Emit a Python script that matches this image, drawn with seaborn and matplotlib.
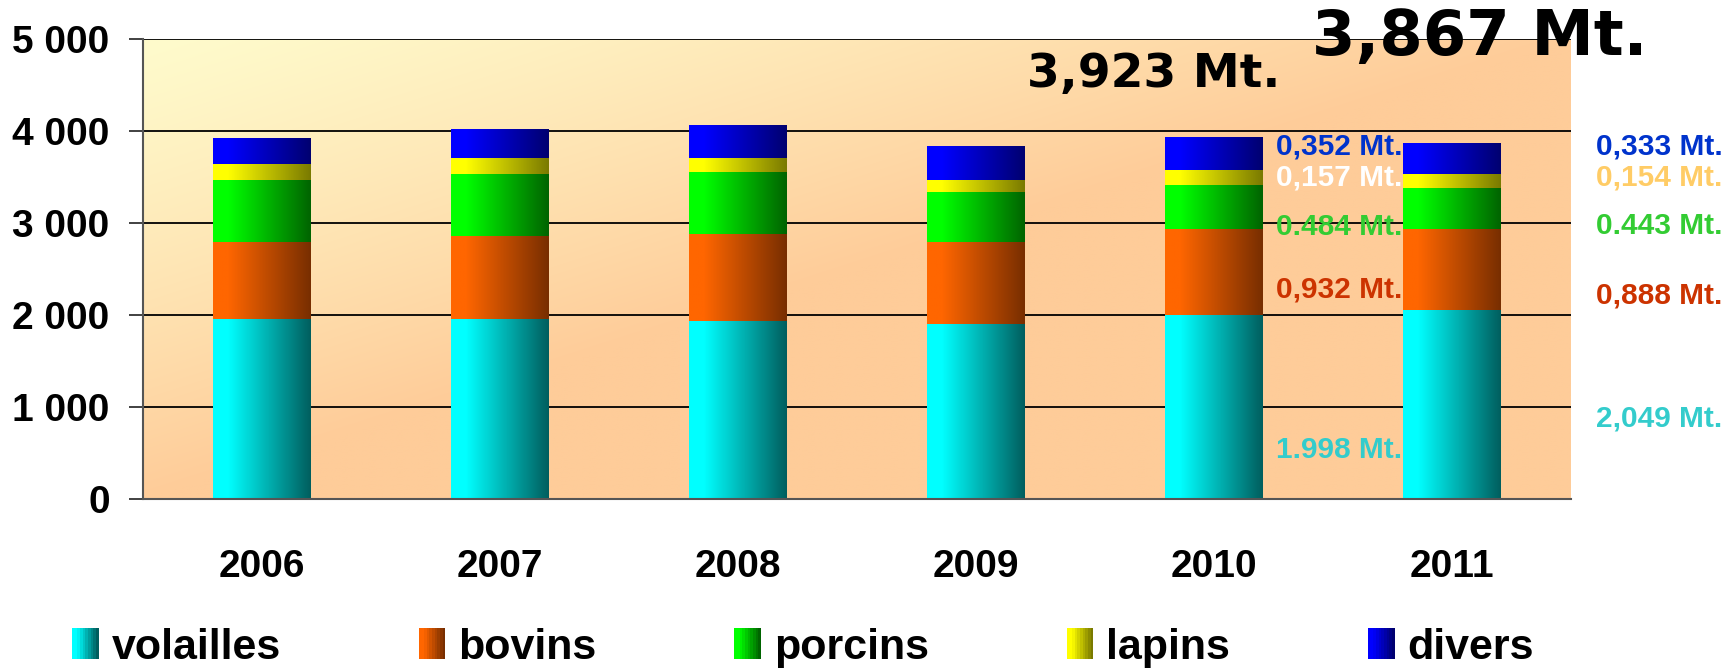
import numpy as np
import pandas as pd
import matplotlib
matplotlib.use("Agg")
import matplotlib.pyplot as plt
import seaborn as sns
from matplotlib.patches import Patch, Rectangle
from matplotlib.legend_handler import HandlerBase
from matplotlib.ticker import FuncFormatter, FixedLocator

# values in kt (2010 / 2011 from the printed labels)
years = ["2006", "2007", "2008", "2009", "2010", "2011"]
volailles = [1957, 1957, 1935, 1902, 1998, 2049]
bovins = [840, 902, 949, 891, 932, 888]
porcins = [670, 674, 670, 544, 484, 443]
lapins = [174, 174, 153, 130, 157, 154]
divers = [272, 315, 358, 359, 352, 333]

series_names = ["volailles", "bovins", "porcins", "lapins", "divers"]
labels_2010 = ["1.998 Mt.", "0,932 Mt.", "0.484 Mt.", "0,157 Mt.", "0,352 Mt."]
labels_2011 = ["2,049 Mt.", "0,888 Mt.", "0.443 Mt.", "0,154 Mt.", "0,333 Mt."]
total_2010 = "3,923 Mt."
total_2011 = "3,867 Mt."

# gradient ends (light -> dark) for each series
grad = {
    "volailles": ("#00FFFF", "#005E5E"),
    "bovins": ("#FF6600", "#782E00"),
    "porcins": ("#00FF00", "#006400"),
    "lapins": ("#FFFF00", "#7A7A00"),
    "divers": ("#0000FF", "#000070"),
}
txt_left = ["#33CCCC", "#CC3300", "#33CC33", "#FFFFFF", "#0033CC"]
txt_right = ["#33CCCC", "#CC3300", "#33CC33", "#FFCC66", "#0033CC"]


def ramp(c0, c1, n=128):
    a = np.array(matplotlib.colors.to_rgb(c0))
    b = np.array(matplotlib.colors.to_rgb(c1))
    f = np.clip((np.linspace(0, 1, n) - 0.15) / 0.85, 0, 1)[:, None]
    return a * (1 - f) + b * f


class GradHandler(HandlerBase):
    def create_artists(self, legend, orig_handle, xdescent, ydescent,
                       width, height, fontsize, trans):
        cols = ramp(*grad[orig_handle.get_label()], n=10)
        w = width / len(cols)
        return [Rectangle((-xdescent + i * w, -ydescent), w * 1.05, height,
                          facecolor=c, edgecolor="none", transform=trans)
                for i, c in enumerate(cols)]


sns.set_style("white")
plt.rcParams["font.family"] = ["Liberation Sans", "DejaVu Sans"]
plt.rcParams["text.color"] = "black"
plt.rcParams["xtick.color"] = "black"
plt.rcParams["ytick.color"] = "black"

df = pd.DataFrame({"year": years, "volailles": volailles, "bovins": bovins,
                   "porcins": porcins, "lapins": lapins, "divers": divers})

fig = plt.figure(figsize=(17.33, 6.69), dpi=100)
ax = fig.add_axes([0.0825, 0.254, 0.824, 0.688])

# background gradient: pale yellow top-left -> peach bottom-right
u, v = np.meshgrid(np.linspace(0, 1, 200), np.linspace(0, 1, 200))
t = (np.clip(u + v, 0, 1) ** 1.2)[..., None]
top = np.array([255, 251, 204]) / 255
bot = np.array([254, 204, 153]) / 255
ax.imshow(top * (1 - t) + bot * t, extent=[0, 1, 0, 1], transform=ax.transAxes,
          aspect="auto", zorder=0, interpolation="bilinear")

bottom = np.zeros(len(years))
for name in series_names:
    sns.barplot(data=df, x="year", y=name, bottom=bottom, width=0.41,
                color=grad[name][0], ax=ax, zorder=1)
    cols = ramp(*grad[name])[None, :, :]
    for p in ax.containers[-1].patches:
        p.set_visible(False)
        ax.imshow(cols, extent=[p.get_x(), p.get_x() + p.get_width(),
                                p.get_y(), p.get_y() + p.get_height()],
                  aspect="auto", zorder=2, interpolation="bilinear")
    bottom = bottom + df[name].to_numpy()

ax.set_xlim(-0.5, 5.5)
ax.set_ylim(0, 5000)
ax.set_xlabel("")
ax.set_ylabel("")

ax.yaxis.set_major_locator(FixedLocator([0, 1000, 2000, 3000, 4000, 5000]))
ax.yaxis.set_major_formatter(FuncFormatter(lambda val, pos: f"{val:,.0f}".replace(",", " ")))
ax.yaxis.grid(True, color="black", lw=1.3, zorder=0.5)
ax.xaxis.grid(False)
ax.set_axisbelow(True)

ax.set_xticks(range(len(years)))
ax.set_xticks(np.arange(-0.5, len(years)), minor=True)
ax.tick_params(axis="x", which="major", length=0, pad=36, labelsize=28)
ax.tick_params(axis="x", which="minor", length=10, width=1.3, color="#555555", direction="out")
ax.tick_params(axis="y", length=10, width=1.3, color="#333333", pad=14, labelsize=28, left=True)
for lab in ax.get_xticklabels() + ax.get_yticklabels():
    lab.set_fontweight("bold")

for s in ["top", "right"]:
    ax.spines[s].set_visible(False)
for s in ["left", "bottom"]:
    ax.spines[s].set_color("#555555")
    ax.spines[s].set_linewidth(1.5)
    ax.spines[s].set_zorder(3)

# value labels next to the last two bars
y_left = [533, 2272, 2957, 3489, 3826]
y_right = [880, 2207, 2967, 3489, 3826]
for lab, yy, c in zip(labels_2010, y_left, txt_left):
    ax.text(4.26, yy, lab, color=c, fontsize=21.5, fontweight="bold",
            va="center", ha="left", zorder=1.5)
for lab, yy, c in zip(labels_2011, y_right, txt_right):
    ax.text(5.605, yy, lab, color=c, fontsize=21.5, fontweight="bold",
            va="center", ha="left", zorder=3, clip_on=False)

ax.text(3.214, 4609, total_2010, fontsize=34, fontweight="bold",
        family="DejaVu Sans", va="center", ha="left", zorder=3)
ax.text(4.41, 5011, total_2011, fontsize=45, fontweight="bold",
        family="DejaVu Sans", va="center", ha="left", zorder=3, clip_on=False)

handles = [Patch(facecolor=grad[n][0], label=n) for n in series_names]
fig.legend(handles=handles, labels=series_names, ncol=5, loc="center left",
           bbox_to_anchor=(0.0415, 0.032), frameon=False, borderpad=0,
           borderaxespad=0, handlelength=0.62, handleheight=0.75,
           handletextpad=0.3, columnspacing=3.2,
           prop={"size": 31, "weight": "bold"},
           handler_map={h: GradHandler() for h in handles})

fig.savefig("out.png", dpi=100, facecolor="white")
